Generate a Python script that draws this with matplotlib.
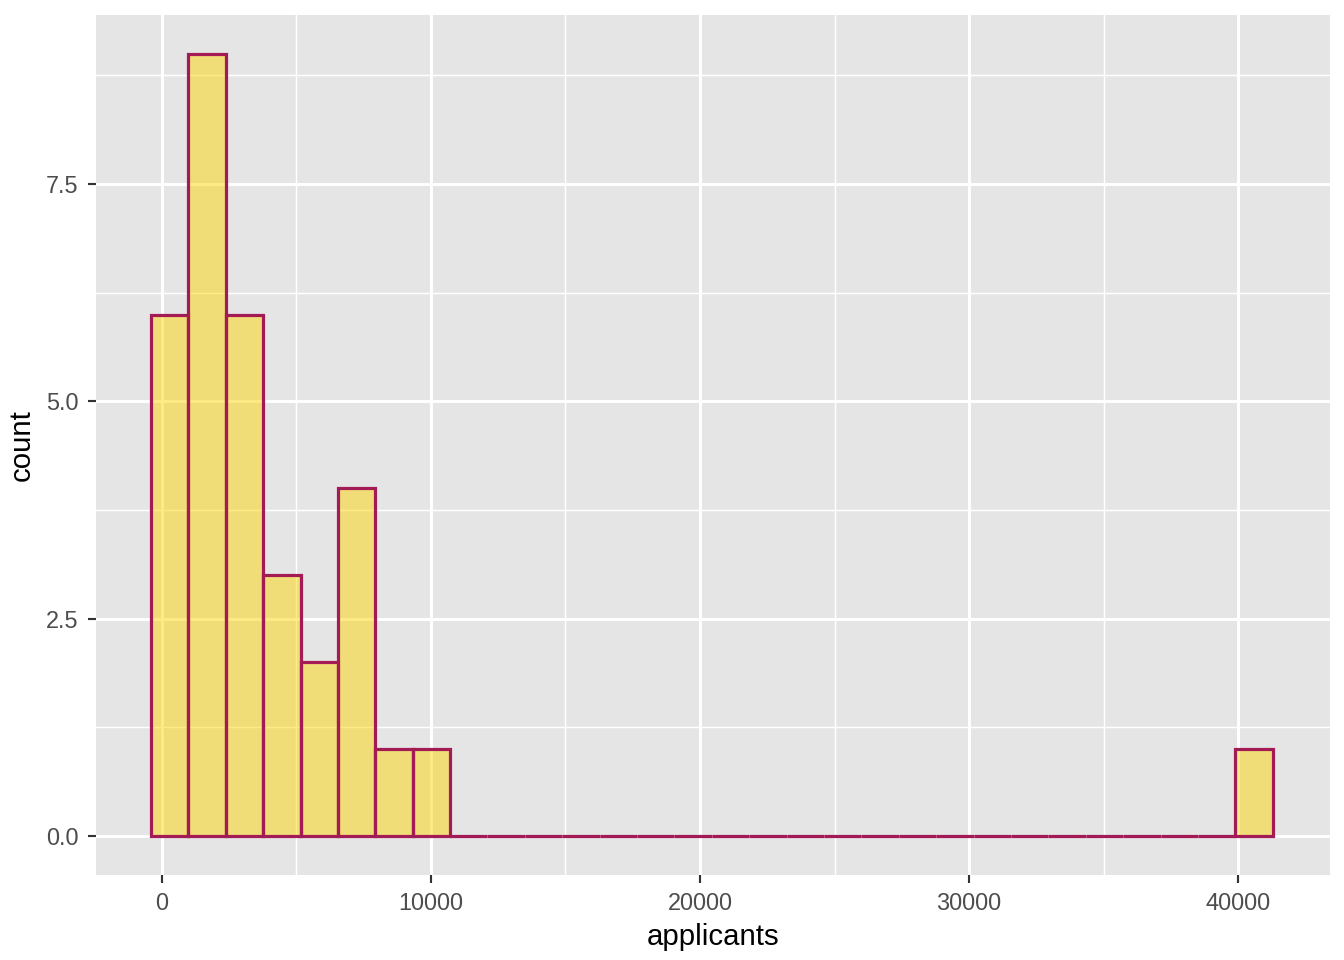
import matplotlib.pyplot as plt

plt.rcParams['font.family'] = ['Liberation Sans', 'DejaVu Sans']

# histogram of applicants, 30 bins
counts = [6, 9, 6, 3, 2, 4, 1, 1, 0, 0, 0, 0, 0, 0, 0, 0, 0, 0, 0, 0,
          0, 0, 0, 0, 0, 0, 0, 0, 0, 1]
bin_start = -410
bin_width = 1390
x_ticks = [0, 10000, 20000, 30000, 40000]
y_ticks = [0.0, 2.5, 5.0, 7.5]

lefts = [bin_start + i * bin_width for i in range(len(counts))]

fig = plt.figure(figsize=(7, 5), dpi=192)
ax = fig.add_axes([0.0714, 0.0885, 0.9182, 0.8958])
ax.set_facecolor('#E5E5E5')

ax.bar(lefts, counts, width=bin_width, align='edge',
       color=(1.0, 0.84, 0.0, 0.48), edgecolor='#A31B55', linewidth=1.2, zorder=3)

ax.set_xlim(-2454, 43420)
ax.set_ylim(-0.449, 9.445)
ax.set_xticks(x_ticks)
ax.set_xticklabels([str(t) for t in x_ticks])
ax.set_yticks(y_ticks)
ax.set_yticklabels(['%.1f' % t for t in y_ticks])
ax.set_xticks([5000, 15000, 25000, 35000], minor=True)
ax.set_yticks([1.25, 3.75, 6.25, 8.75], minor=True)
ax.grid(which='major', color='white', linewidth=1.1, zorder=0)
ax.grid(which='minor', color='white', linewidth=0.55, zorder=0)
ax.set_axisbelow(True)
for s in ax.spines.values():
    s.set_visible(False)
ax.tick_params(which='major', length=3, color='#333333', labelcolor='#4D4D4D', labelsize=8.8)
ax.tick_params(which='minor', length=0)
ax.set_xlabel('applicants', fontsize=11, labelpad=3)
ax.set_ylabel('count', fontsize=11, labelpad=4)

fig.savefig('out.png', dpi=192)
